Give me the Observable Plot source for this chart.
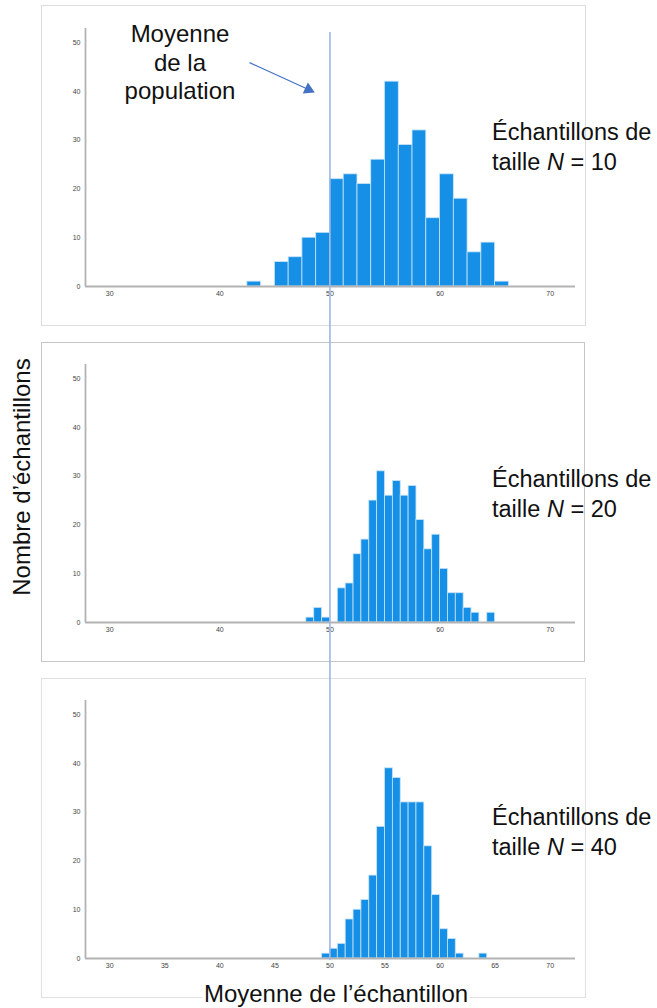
<!DOCTYPE html>
<html>
<head>
<meta charset="utf-8">
<script src="https://cdn.jsdelivr.net/npm/d3@7"></script>
<script src="https://cdn.jsdelivr.net/npm/@observablehq/plot@0.6"></script>
<style>
  body { margin: 0; background: white; }
  #root { position: relative; width: 657px; height: 1008px; overflow: hidden; font-family: "Liberation Sans", Arial, sans-serif; color: #111; }
  .box { position: absolute; box-sizing: border-box; border: 1px solid #d9d9d9; }
  .abs { position: absolute; }
  .ann { position: absolute; font-size: 23.5px; line-height: 30px; white-space: nowrap; }
</style>
</head>
<body>
<div id="root"></div>
<script>
// ---- data ----
const xDomain = [27.8, 72.3];
const yDomain = [0, 52.9];
const yTicks = [0, 10, 20, 30, 40, 50];
const xTicksWide = [30, 40, 50, 60, 70];
const xTicksFine = [30, 35, 40, 45, 50, 55, 60, 65, 70];
const populationMean = 50;

// N = 10 : bins of width 1.25
const n10BinWidth = 1.25;
const n10Start = [42.5, 45, 46.25, 47.5, 48.75, 50, 51.25, 52.5, 53.75, 55, 56.25, 57.5, 58.75, 60, 61.25, 62.5, 63.75, 65];
const n10Count = [1, 5, 6, 10, 11, 22, 23, 21, 26, 42, 29, 32, 14, 23, 18, 7, 9, 1];

// N = 20 : bins of width 10/14
const n20BinWidth = 0.7143;
const n20Start = [47.857, 48.571, 49.286, 50.714, 51.429, 52.143, 52.857, 53.571, 54.286, 55.0, 55.714, 56.429, 57.143, 57.857, 58.571, 59.286, 60.0, 60.714, 61.429, 62.143, 62.857, 64.286];
const n20Count = [1, 3, 1, 7, 8, 14, 17, 25, 31, 26, 29, 26, 28, 21, 15, 18, 11, 6, 6, 3, 2, 2];

// N = 40 : bins of width 10/14
const n40BinWidth = 0.7143;
const n40Start = [49.286, 50.0, 50.714, 51.429, 52.143, 52.857, 53.571, 54.286, 55.0, 55.714, 56.429, 57.143, 57.857, 58.571, 59.286, 60.0, 60.714, 61.429, 63.571];
const n40Count = [1, 2, 3, 8, 10, 12, 17, 27, 39, 37, 32, 32, 32, 23, 13, 6, 4, 1, 1];

// annotation arrow (panel N = 10, data units)
const arrowStart = {x: 42.7, y: 45.9};
const arrowEnd = {x: 48.05, y: 40.4};

// ---- styling ----
const W = 657, ML = 85, MR = 82;
const barFill = "#1590e6", barStroke = "#c9e3f8";
const axisGray = "#b3b3b3", tickText = "#444";
const meanColor = "#9db5e6", arrowColor = "#4472c4";

const root = document.getElementById("root");

function addBox(left, top, width, height, color) {
  const d = document.createElement("div");
  d.className = "box";
  Object.assign(d.style, {left: left + "px", top: top + "px", width: width + "px", height: height + "px"});
  if (color) d.style.borderColor = color;
  root.appendChild(d);
}

function panel(starts, counts, binWidth, xTicks, top, extra = []) {
  const data = starts.map((s, i) => ({x1: s, x2: s + binWidth, count: counts[i]}));
  const svg = Plot.plot({
    width: W,
    height: 28 + 258 + 30,
    marginLeft: ML, marginRight: MR, marginTop: 28, marginBottom: 30,
    style: {background: "transparent", fontFamily: "Liberation Sans, Arial, sans-serif", overflow: "visible"},
    x: {domain: xDomain},
    y: {domain: yDomain},
    marks: [
      Plot.rect(data, {x1: "x1", x2: "x2", y1: 0, y2: "count", fill: barFill, stroke: barStroke, strokeWidth: 0.8}),
      Plot.ruleY([yDomain[0]], {stroke: axisGray, strokeWidth: 1.8}),
      Plot.ruleX([xDomain[0]], {stroke: axisGray, strokeWidth: 1.8}),
      Plot.axisX({ticks: xTicks, tickSize: 0, tickPadding: 5, fontSize: 7, color: tickText, label: null}),
      Plot.axisY({ticks: yTicks, tickSize: 0, tickPadding: 5, fontSize: 7, color: tickText, label: null}),
      ...extra
    ]
  });
  svg.classList.add("abs");
  svg.style.left = "0px";
  svg.style.top = top + "px";
  root.appendChild(svg);
}

// boxes
addBox(41, 5, 545, 321, "#dcdcdc");
addBox(41, 342, 544, 320, "#c6c6c6");
addBox(41, 678, 545, 320, "#e0e0e0");

// panels
panel(n10Start, n10Count, n10BinWidth, xTicksWide, 0, [
  Plot.link([{x1: arrowStart.x, y1: arrowStart.y, x2: arrowEnd.x, y2: arrowEnd.y}],
    {x1: "x1", y1: "y1", x2: "x2", y2: "y2", stroke: arrowColor, strokeWidth: 1.2}),
  Plot.dot([arrowEnd], {x: "x", y: "y", symbol: "triangle", r: 4.5, fill: arrowColor, stroke: "none", rotate: 115})
]);
panel(n20Start, n20Count, n20BinWidth, xTicksWide, 336);
panel(n40Start, n40Count, n40BinWidth, xTicksFine, 672);

// population mean line across all panels
const overlay = Plot.plot({
  width: W, height: 1008,
  marginLeft: ML, marginRight: MR, marginTop: 32, marginBottom: 1008 - 960,
  style: {background: "transparent"},
  x: {domain: xDomain, axis: null},
  y: {axis: null},
  marks: [Plot.ruleX([populationMean], {stroke: meanColor, strokeWidth: 1.6})]
});
overlay.classList.add("abs");
overlay.style.left = "0px";
overlay.style.top = "0px";
overlay.style.pointerEvents = "none";
root.appendChild(overlay);

// annotations
function addText(html, css) {
  const d = document.createElement("div");
  d.className = "ann";
  d.innerHTML = html;
  Object.assign(d.style, css);
  root.appendChild(d);
  return d;
}
addText("Moyenne<br>de la<br>population", {left: "80px", width: "200px", top: "20px", textAlign: "center", lineHeight: "28.5px", fontSize: "24px"});
addText("Échantillons de<br>taille <i>N</i> = 10", {left: "492px", top: "117px"});
addText("Échantillons de<br>taille <i>N</i> = 20", {left: "492px", top: "464px"});
addText("Échantillons de<br>taille <i>N</i> = 40", {left: "492px", top: "802px"});
addText("Nombre d’échantillons", {left: "22px", top: "477px", fontSize: "24px", transform: "translate(-50%, -50%) rotate(-90deg)", lineHeight: "28px"});
addText("Moyenne de l’échantillon", {left: "336px", top: "980px", fontSize: "24px", transform: "translateX(-50%)", background: "white", lineHeight: "28px", padding: "0 2px"});
</script>
</body>
</html>
